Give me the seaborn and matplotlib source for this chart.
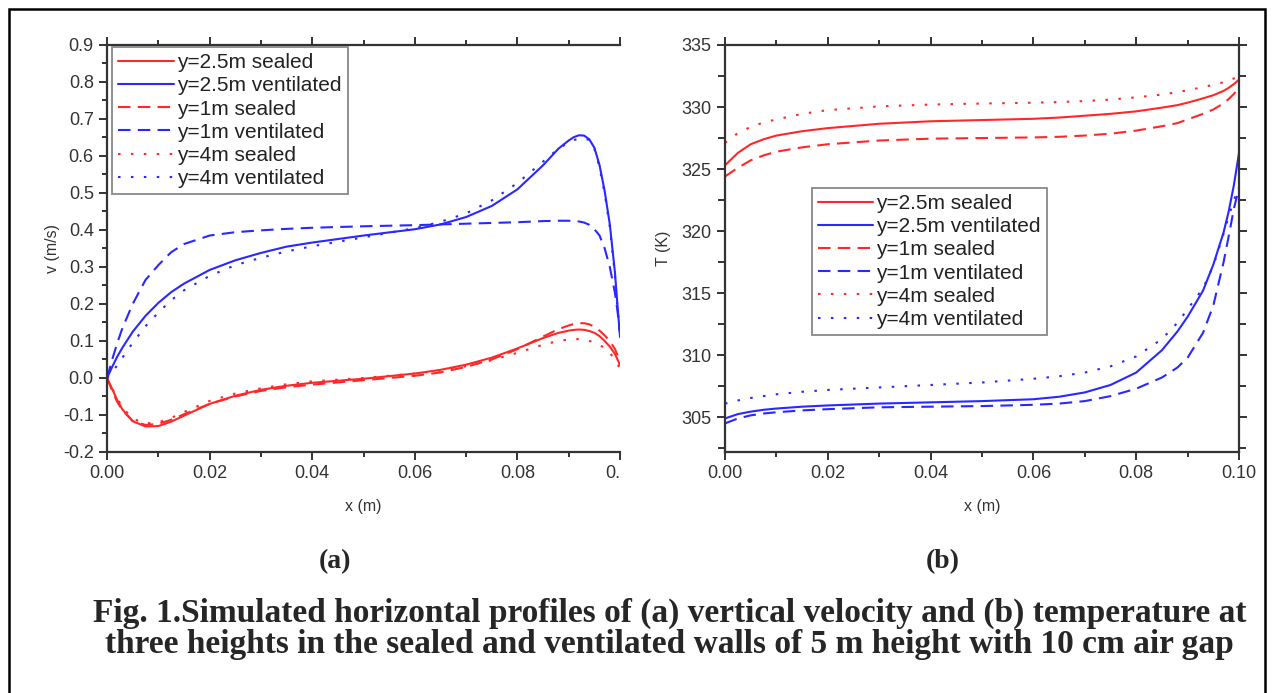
import numpy as np
import pandas as pd
import matplotlib
matplotlib.use('Agg')
import matplotlib.pyplot as plt
from matplotlib.ticker import MultipleLocator, FormatStrFormatter
from matplotlib.patches import Rectangle
import seaborn as sns

sns.set_style('ticks')
plt.rcParams['font.family'] = ['Liberation Sans', 'DejaVu Sans']

# ---------------- (a) vertical velocity ----------------
x_v = [0, 0.001, 0.002, 0.003, 0.005, 0.0075, 0.01, 0.0125, 0.015, 0.02, 0.025,
       0.03, 0.035, 0.04, 0.05, 0.06, 0.065, 0.07, 0.075, 0.08, 0.085, 0.088,
       0.09, 0.091, 0.092, 0.093, 0.094, 0.095, 0.096, 0.097, 0.098, 0.099, 0.0995, 0.1]

v_seal_25 = [0.0, -0.03, -0.06, -0.085, -0.117, -0.131, -0.13, -0.118, -0.102, -0.07, -0.048,
             -0.032, -0.021, -0.013, -0.002, 0.012, 0.022, 0.036, 0.055, 0.08, 0.108, 0.122,
             0.128, 0.13, 0.131, 0.13, 0.127, 0.122, 0.113, 0.1, 0.085, 0.065, 0.05, 0.035]
v_vent_25 = [0.0, 0.03, 0.058, 0.082, 0.125, 0.168, 0.203, 0.232, 0.255, 0.292, 0.318,
             0.338, 0.355, 0.366, 0.385, 0.402, 0.415, 0.435, 0.465, 0.51, 0.575, 0.62,
             0.642, 0.651, 0.656, 0.655, 0.645, 0.622, 0.575, 0.505, 0.415, 0.285, 0.195, 0.11]
v_seal_1 = [0.0, -0.035, -0.065, -0.088, -0.116, -0.127, -0.124, -0.113, -0.098, -0.07, -0.05,
            -0.035, -0.025, -0.018, -0.006, 0.006, 0.015, 0.03, 0.05, 0.078, 0.112, 0.132,
            0.142, 0.146, 0.148, 0.148, 0.145, 0.138, 0.128, 0.115, 0.1, 0.078, 0.062, 0.045]
v_vent_1 = [0.0, 0.05, 0.095, 0.135, 0.2, 0.265, 0.305, 0.34, 0.362, 0.385, 0.394,
            0.399, 0.403, 0.406, 0.41, 0.413, 0.415, 0.417, 0.419, 0.421, 0.424, 0.425,
            0.425, 0.424, 0.423, 0.42, 0.414, 0.402, 0.385, 0.35, 0.30, 0.23, 0.18, 0.12]
v_seal_4 = [0.0, -0.028, -0.055, -0.08, -0.11, -0.123, -0.12, -0.108, -0.092, -0.062, -0.042,
            -0.028, -0.017, -0.009, 0.0, 0.012, 0.02, 0.032, 0.048, 0.068, 0.09, 0.1,
            0.104, 0.105, 0.105, 0.103, 0.1, 0.096, 0.09, 0.08, 0.068, 0.05, 0.038, 0.025]
v_vent_4 = [0.0, 0.015, 0.035, 0.055, 0.095, 0.14, 0.177, 0.21, 0.237, 0.276, 0.305,
            0.325, 0.342, 0.356, 0.38, 0.405, 0.422, 0.445, 0.48, 0.527, 0.585, 0.62,
            0.637, 0.643, 0.647, 0.648, 0.643, 0.62, 0.568, 0.498, 0.408, 0.278, 0.188, 0.11]

# ---------------- (b) temperature ----------------
x_t = [0, 0.0025, 0.005, 0.0075, 0.01, 0.015, 0.02, 0.03, 0.04, 0.05, 0.06, 0.065,
       0.07, 0.075, 0.08, 0.085, 0.088, 0.09, 0.093, 0.095, 0.097, 0.098, 0.099, 0.1]

t_seal_25 = [325.3, 326.3, 327.0, 327.4, 327.7, 328.05, 328.3, 328.65, 328.85, 328.95, 329.05, 329.15,
             329.3, 329.45, 329.65, 329.95, 330.15, 330.35, 330.7, 330.95, 331.3, 331.55, 331.85, 332.2]
t_vent_25 = [304.9, 305.25, 305.45, 305.6, 305.7, 305.85, 305.95, 306.1, 306.2, 306.3, 306.45, 306.65,
             307.0, 307.6, 308.6, 310.4, 311.9, 313.1, 315.2, 317.3, 319.9, 321.6, 323.7, 326.3]
t_seal_1 = [324.4, 325.1, 325.7, 326.1, 326.4, 326.75, 327.0, 327.3, 327.45, 327.5, 327.55, 327.6,
            327.7, 327.85, 328.1, 328.45, 328.7, 329.0, 329.45, 329.8, 330.3, 330.65, 331.05, 331.6]
t_vent_1 = [304.5, 304.9, 305.15, 305.3, 305.4, 305.55, 305.65, 305.8, 305.85, 305.9, 306.0, 306.1,
            306.3, 306.7, 307.3, 308.2, 309.0, 309.8, 311.8, 314.0, 317.5, 319.6, 321.8, 323.5]
t_seal_4 = [327.1, 327.9, 328.4, 328.75, 329.0, 329.45, 329.75, 330.05, 330.2, 330.28, 330.35, 330.4,
            330.48, 330.6, 330.78, 331.0, 331.2, 331.35, 331.6, 331.8, 332.0, 332.15, 332.3, 332.45]
t_vent_4 = [306.1, 306.35, 306.55, 306.7, 306.85, 307.05, 307.2, 307.4, 307.6, 307.8, 308.1, 308.3,
            308.6, 309.1, 309.9, 311.3, 312.6, 313.7, 315.4, 317.2, 319.8, 321.2, 322.5, 323.5]

labels = ['y=2.5m sealed', 'y=2.5m ventilated', 'y=1m sealed',
          'y=1m ventilated', 'y=4m sealed', 'y=4m ventilated']
v_series = [v_seal_25, v_vent_25, v_seal_1, v_vent_1, v_seal_4, v_vent_4]
t_series = [t_seal_25, t_vent_25, t_seal_1, t_vent_1, t_seal_4, t_vent_4]

RED = '#ff2828'
BLUE = '#2828ff'
colors = [RED, BLUE, RED, BLUE, RED, BLUE]
styles = ['-', '-', (0, (6, 3.5)), (0, (6, 3.5)), (0, (1.2, 5)), (0, (1.2, 5))]

fig = plt.figure(figsize=(12.73, 6.93), dpi=100)
ax1 = fig.add_axes([0.0841, 0.3478, 0.403, 0.5873])
ax2 = fig.add_axes([0.5695, 0.3478, 0.4038, 0.5873])

AX_COL = '#333333'


def draw(ax, xs, series):
    for ys, lab, c, ls in zip(series, labels, colors, styles):
        sns.lineplot(x=xs, y=ys, ax=ax, color=c, lw=1.5, label=lab, estimator=None)
        ax.lines[-1].set_linestyle(ls)


def style_axes(ax, right_spine):
    ax.set_xlim(0, 0.1)
    ax.xaxis.set_major_locator(MultipleLocator(0.02))
    ax.xaxis.set_minor_locator(MultipleLocator(0.01))
    for s in ['left', 'bottom', 'top', 'right']:
        ax.spines[s].set_color(AX_COL)
        ax.spines[s].set_linewidth(1.6)
    ax.spines['right'].set_visible(right_spine)
    ax.tick_params(which='both', direction='out', color=AX_COL, width=1.4,
                   top=True, right=right_spine, labelsize=13, labelcolor='#333333')
    ax.tick_params(which='major', length=6)
    ax.tick_params(which='minor', length=3.5)
    if right_spine:
        ax.tick_params(axis='y', which='minor', length=5)
    ax.set_xlabel('x (m)', fontsize=11.5, color='#333333', labelpad=12)


def style_legend(ax, anchor):
    leg = ax.legend(loc='upper left', bbox_to_anchor=anchor, borderaxespad=0,
                    fontsize=15, handlelength=2.65, handletextpad=0.15,
                    labelspacing=0.2, borderpad=0.3, fancybox=False,
                    framealpha=1, edgecolor='#888888')
    leg.get_frame().set_linewidth(1.3)
    for t in leg.get_texts():
        t.set_color('#222222')


draw(ax1, x_v, v_series)
style_axes(ax1, right_spine=False)
ax1.set_ylim(-0.2, 0.9)
ax1.yaxis.set_minor_locator(MultipleLocator(0.05))
ax1.set_xticks([0, 0.02, 0.04, 0.06, 0.08, 0.1])
ax1.set_xticklabels(['0.00', '0.02', '0.04', '0.06', '0.08', '0.'])
ax1.get_xticklabels()[-1].set_ha('right')
yt = np.round(np.arange(-0.2, 0.91, 0.1), 1)
ax1.set_yticks(yt)
ax1.set_yticklabels(['%.1f' % v for v in yt])
ax1.set_ylabel('v (m/s)', fontsize=11.5, color='#333333', labelpad=2)
style_legend(ax1, (0.01, 0.995))

draw(ax2, x_t, t_series)
style_axes(ax2, right_spine=True)
ax2.set_ylim(302.2, 335)
ax2.yaxis.set_major_locator(MultipleLocator(5))
ax2.yaxis.set_minor_locator(MultipleLocator(2.5))
ax2.xaxis.set_major_formatter(FormatStrFormatter('%.2f'))
ax2.set_ylabel('T (K)', fontsize=11.5, color='#333333', labelpad=8)
style_legend(ax2, (0.169, 0.649))

# caption
serif = ['Liberation Serif', 'DejaVu Serif']
fig.text(335 / 1273, 1 - 562 / 693, '(a)', family=serif, weight='bold',
         fontsize=20, ha='center', va='center')
fig.text(943 / 1273, 1 - 562 / 693, '(b)', family=serif, weight='bold',
         fontsize=20, ha='center', va='center')
fig.text(0.526, 1 - 613 / 693,
         'Fig. 1.Simulated horizontal profiles of (a) vertical velocity and (b) temperature at',
         family=serif, weight='bold', fontsize=24, ha='center', va='center')
fig.text(0.526, 1 - 644 / 693,
         'three heights in the sealed and ventilated walls of 5 m height with 10 cm air gap',
         family=serif, weight='bold', fontsize=24, ha='center', va='center')

# outer frame
fig.patches.append(Rectangle((8.5 / 1273, -0.05), (1265 - 8.5) / 1273, 1.05 - 9 / 693,
                             transform=fig.transFigure, fill=False,
                             edgecolor='black', lw=1.8))

fig.savefig('out.png', dpi=100)
